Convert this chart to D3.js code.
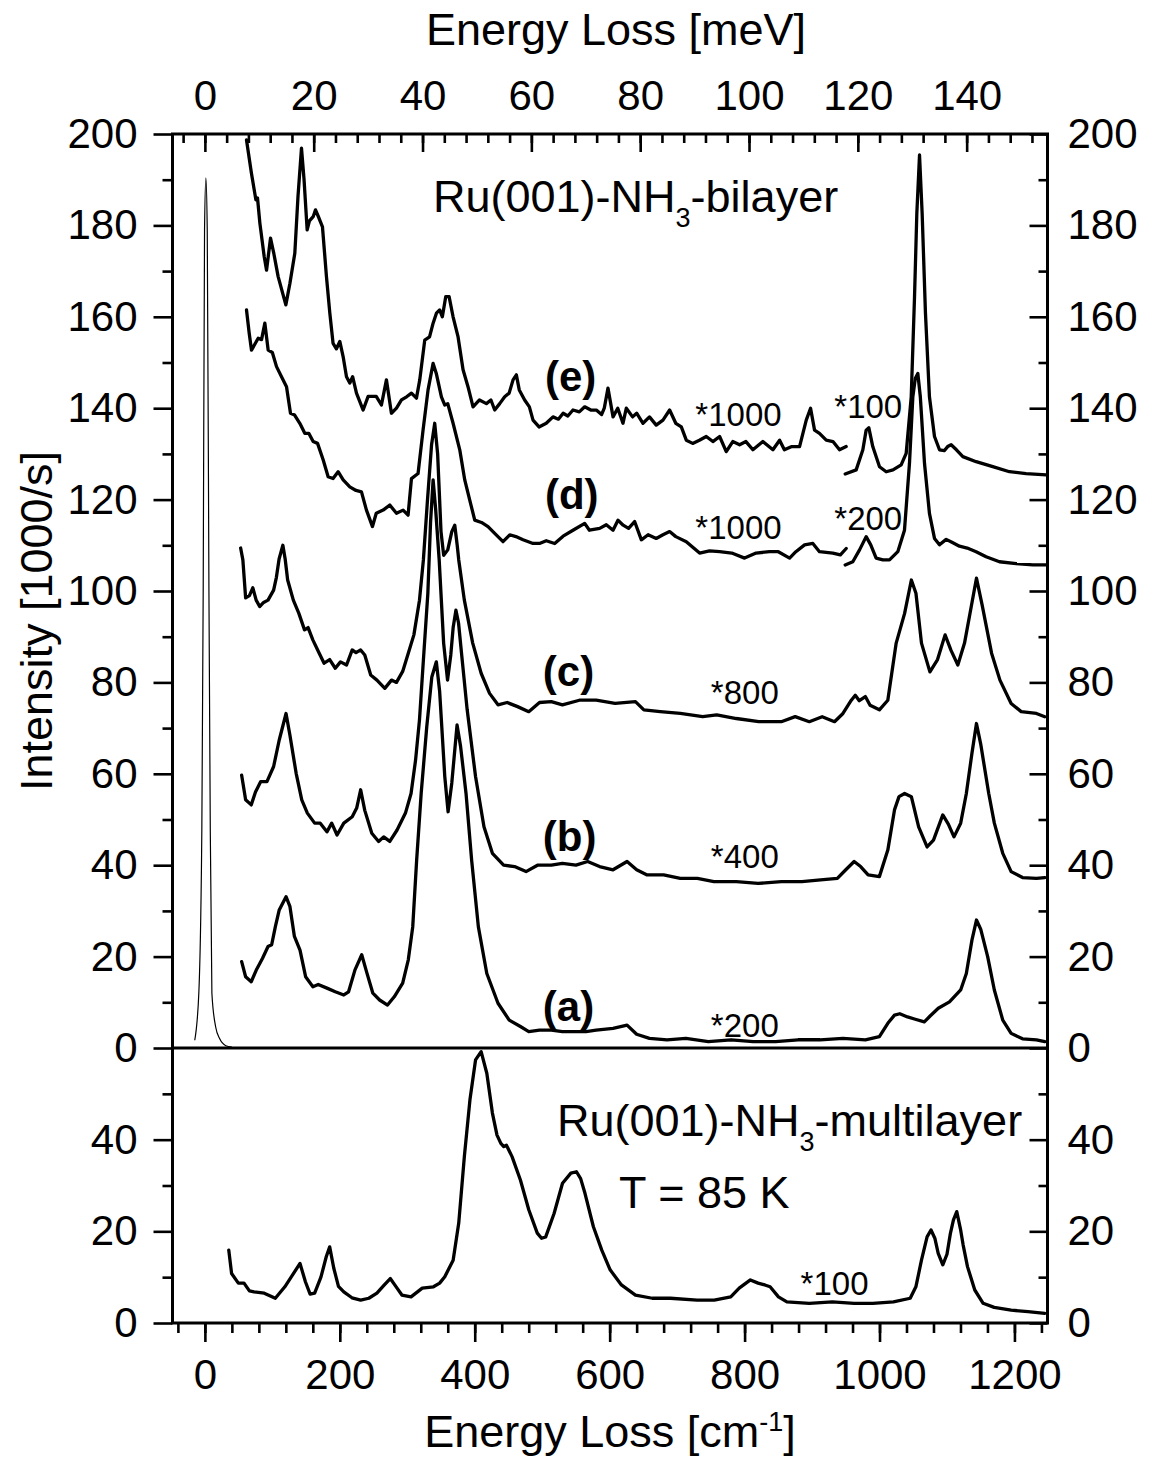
<!DOCTYPE html>
<html>
<head>
<meta charset="utf-8">
<script src="https://cdn.jsdelivr.net/npm/d3@7"></script>
<style>
  body { margin: 0; background: #fff; }
  svg { display: block; }
  text { font-family: "Liberation Sans", Arial, sans-serif; fill: #000; }
</style>
</head>
<body>
<svg id="chart" width="1160" height="1457"></svg>
<script>
// ---------- data (x in cm^-1, y in 1000/s) ----------
const elasticPeak = [[-15,1.7],[-9,12],[-4.5,48],[-2.5,100],[-0.5,179],[1.5,190.4],[3.5,179],[6,100],[8,48],[10.4,12],[16,4.6],[22,2],[31,0.5],[40,0.2]];

const curveE_left = [[61.7,198.7],[69,191.4],[75.6,185.6],[78,186],[81.5,180.5],[87.9,173.2],[91.4,170.2],[97.3,177.2],[102,174],[108.6,168.8],[120,162.6],[126,167.3],[133.3,173.9],[138,186.3],[143.2,196.9],[147,190],[151.6,179],[155,181],[160.5,181.9],[164,183.4],[168,182],[174.3,179.7],[180.2,168.8],[185.2,160.8],[190,154.2],[195,153],[200,154.6],[204.9,151.3],[209.9,146.9],[214.8,145.5],[219,146.9],[224.7,143.3],[234.6,139.6],[242,142.6],[254,142.6],[261.7,140.7],[269.1,146.2],[276.5,138.9],[284,140],[291.4,141.8],[299,142.5],[306.2,143.3],[313.6,142.2],[318.5,146.2],[325.9,154.9],[333,155.6],[338.3,158.6],[343.2,160.8],[348,161.5],[352,160],[357,164.4],[362,164.4],[367.9,160],[375.3,155.6],[382.7,148.4],[390,144.7],[397.5,140.3],[407,141.8],[417.3,141],[424,141.8],[429.6,139.6],[437,141],[444.4,142.5],[451,143.3],[456.8,146.2],[461.7,147.3],[466,144],[474,141.8],[481,140.3],[486.4,137.4],[495.3,135.9],[506,136.7],[516,138.1],[524,137.6],[531,138.9],[538,138.3],[545.6,139.6],[555,139.2],[563,140.3],[572,139.6],[580.2,139.6],[588,138.6],[592,140],[597.5,144.4],[605,138.1],[612,140],[619.7,136.7],[624.7,140],[634,138.1],[640,138.9],[649.4,136.7],[659,138.1],[669,136.3],[679,137.4],[688.9,139.6],[698,136.7],[706.2,135.9],[713.6,133],[723,132.3],[733,133],[743.2,133.8],[753,132.7],[763,133.8],[772.8,130.5],[782.5,132.7],[792.6,132],[802,132.7],[812.3,130.9],[827.1,132.7],[842,130.9],[851.9,133],[859,130.9],[870,131.6],[881.5,131.6],[891.4,137.4],[897.8,140],[903.7,135.2],[911,134.5],[921,133],[931,132.7],[940.7,130.9],[950.6,131.6]];
const curveE_right = [[949.1,125.6],[965.4,126.5],[975.3,130.9],[980.2,135.2],[984.2,135.7],[990,131.6],[1000,127.2],[1009.9,126.1],[1020,126.5],[1032.1,127.6],[1039.5,130.1],[1047,142.5],[1051.9,164.4],[1055.3,182.6],[1059.3,195.4],[1063.2,182.6],[1068.1,160.8],[1074,142.5],[1081.5,133.8],[1088.9,130.9],[1096,130.7],[1101,131.6],[1106.2,132],[1114,130.9],[1123.5,129.4],[1143.2,128.3],[1167.9,127.2],[1192.6,126.1],[1217.3,125.7],[1247,125.4]];

const curveD_left = [[61.7,161.5],[65.7,156.4],[69.1,152.7],[74,154],[79,155.3],[84,155],[88.9,158.6],[93.8,152.7],[100,152.2],[106.2,149.1],[113.6,146.9],[121,144.7],[126.9,138.9],[133,138.5],[140.7,136.7],[148.1,134.5],[154,134.5],[160.5,132.7],[167,132.3],[175.3,128.7],[182.7,125],[190,124.6],[197.5,126.1],[205,124.3],[214.8,122.8],[224,122],[232.1,121.7],[239.5,117.7],[248.4,114.1],[254,117],[264.2,117.7],[274.1,118.8],[284,117],[293.8,117.7],[301.2,116.6],[306.2,124.6],[316,125.7],[323.4,135.2],[330.8,144],[338.3,149.8],[343,147.6],[350.6,142.5],[355.6,140.7],[360,141],[367.9,136.7],[377.8,130.9],[385.2,124.3],[392.6,119.9],[400,115.5],[410,115],[419.7,114.1],[429.6,112.6],[441.9,110.8],[451.9,112.3],[461,111.9],[471.6,111.2],[486.4,110.4],[496,110.4],[506,111],[518.5,110.4],[531,112],[545.6,113.3],[563,114.8],[570,113.3],[585.2,113.7],[595,114.5],[605,113.3],[612.3,115.5],[620,114.4],[628,113.7],[637,115.2],[647,111.2],[657,112.3],[669,111.5],[679,112.3],[688.9,113],[698,111.9],[713.6,110.8],[733.3,108.3],[748,108.8],[763,108.6],[781,108.3],[800,107.2],[817,108.3],[837,108.6],[850,108.6],[866.7,107.2],[876,108.6],[888.9,110.1],[901.2,110.4],[911,108.6],[930.8,108.3],[942,107.9],[950.6,109.3]];
const curveD_right = [[949.1,105.7],[960.4,106.4],[970.4,109],[980.2,111.9],[987,110.1],[995,107.2],[1005,106.8],[1014.8,106.8],[1027.1,108.6],[1037,113.3],[1044.4,127.9],[1049.4,142.5],[1053,146.5],[1056.8,147.6],[1060.5,142.5],[1066.7,127.9],[1074,117],[1081.5,111.5],[1088.9,110.1],[1098.8,111.3],[1108,110.6],[1118.5,109.8],[1130,109.4],[1143.2,108.6],[1158,107.5],[1177.8,106.4],[1202.5,106],[1227.2,105.7],[1247,105.7]];

const curveC = [[53,109.4],[56.3,106.8],[60.4,98.5],[66,99],[71,100.7],[76,98],[81.2,96.6],[87,97.5],[93.6,98],[101.9,100.2],[106,103],[110,107],[115.6,110],[119,107],[122.7,102.4],[131.1,98],[139.3,95.1],[147.7,91.5],[153,92],[160,89.3],[168.4,86.7],[176.7,84.2],[185,85],[193.3,83.1],[201,84.5],[210,83.8],[218.4,87.1],[224,86.5],[230.9,87.1],[237,86],[245.8,81.6],[255,80.5],[266.7,78.7],[276.6,80.5],[284,80],[293.2,82.4],[301.5,86.4],[309.8,90.4],[318.1,98],[323.9,106.8],[330,120],[336,132],[340.7,136.7],[345,130],[350,113],[354,107.8],[360,109],[366,113],[370.4,114.4],[374,110],[376.3,106.8],[384.6,98],[397,88.6],[409.5,82],[422,77.6],[434.5,75.1],[448,75.6],[463.5,74.7],[480.1,73.6],[496,75.6],[513.5,75.8],[530,75.1],[555.1,76.1],[580,76.1],[608,75.4],[638.2,75.8],[650.7,74],[675,73.6],[704.7,73.2],[737.9,72.5],[758.7,72.9],[787.8,72.1],[821,71.4],[854.4,71.4],[875,72.5],[895.9,71.4],[915,72.5],[933.3,71.4],[945.8,73.2],[958.2,76.1],[964.1,77.2],[970,76],[979,76.9],[986,75],[999.8,74],[1012.3,76.1],[1024.7,88.6],[1037.2,95.1],[1047.2,102.4],[1054,99.5],[1062.2,88.6],[1074.7,82.3],[1086,85],[1097.2,90.4],[1106,87],[1116.1,83.8],[1126,88.6],[1136,96.6],[1143.7,102.8],[1152,97],[1166.1,86.4],[1178.5,80.5],[1195.1,75.4],[1210,73.6],[1232.6,73.2],[1245,72.5]];

const curveB = [[54.5,59.7],[60.4,54.3],[68.7,53.2],[75,56],[82.8,58.3],[92,58.3],[101.9,61.6],[110.2,67.4],[120.3,73.2],[126,68.5],[135.3,60.1],[143.6,54.3],[151.9,51.4],[162.7,49.2],[171,49.2],[180.9,47.3],[188,49.2],[195.9,46.6],[205.9,49.2],[218.4,50.6],[225,52.5],[230.9,56.5],[237,52],[247.4,47],[257.5,45.2],[265,46.2],[274.1,45.2],[284.9,47.7],[297.3,51.4],[305.6,55.7],[312.3,63],[318.1,71.8],[323.9,84.9],[330.5,99.5],[334.5,115],[338.3,124.3],[342,118],[347.3,106.8],[353.9,88.6],[359.7,80.5],[364.5,86],[368,92],[372.1,95.8],[376,93],[380.4,86.4],[388.8,74],[401.2,59.4],[413.7,48.4],[426.2,42.6],[442.8,40],[459,39.7],[476,38.6],[493,40],[513.5,40],[530,40.4],[550,40],[567.4,40.8],[585,39.7],[605,39],[625.8,40.8],[640,39],[654.8,37.9],[680,37.9],[704.7,37.1],[730,37.1],[754.5,36.4],[787.8,36.4],[820,36],[854.4,36.4],[885,36.4],[912.6,36.8],[937.5,37.1],[950,39],[962.4,40.8],[972,39.7],[983.1,37.9],[999.8,37.5],[1012.3,43.3],[1022.2,52.1],[1028.9,55],[1037.2,55.7],[1047.2,55],[1058,48.4],[1070.5,44],[1080,45.5],[1093.8,51],[1102,49],[1110.4,46.2],[1120.3,49.2],[1128.7,55.7],[1137,64.5],[1143.7,71],[1150,66.5],[1161.9,55.7],[1170.2,49.2],[1182.7,42.6],[1195.1,38.6],[1212,37.3],[1232.6,37.1],[1245,37.3]];

const curveA = [[54.5,18.9],[60.4,15.6],[68.7,14.5],[76,17],[85.3,19.6],[93.6,22.2],[99,22.6],[104.4,26.5],[110.2,30.2],[120.3,33.1],[126,31],[132.7,24.4],[141,21.4],[149.3,15.6],[160.1,13.4],[168,13.9],[180.9,13.1],[193.3,12.3],[205.9,11.6],[213,12.3],[222.5,17.1],[232.5,20.4],[240,16.5],[249,12],[259,10.5],[270.7,9.4],[280.7,11.2],[293.2,14.2],[301.5,19.3],[308.1,26.5],[313.9,41.1],[320.6,55.7],[328.9,70.3],[336.4,81.2],[343.1,84.5],[348,78],[355.6,59.4],[360.5,51.7],[366,58],[373.8,70.7],[379,66],[387.1,55.7],[395.4,41.1],[405.4,26.5],[417.9,16.3],[434.5,9.8],[451.1,6.1],[467.7,4.7],[480.1,3.6],[496,3.9],[513.5,3.9],[530,3.6],[546.7,3.6],[565,3.6],[580,3.9],[605,4.3],[625.8,5],[640,3],[659,2.1],[685,1.8],[713,2.1],[746.2,1.4],[780,1.8],[812.7,1.4],[846,1.4],[879.3,1.8],[912,1.8],[945.8,2.1],[979,1.8],[999.8,2.5],[1012.3,5.4],[1022.2,7.2],[1030,7.5],[1041.5,6.8],[1053,6.3],[1066.4,5.7],[1075,7],[1087.1,8.7],[1103.7,10.1],[1120.3,12.7],[1128.7,16.3],[1137,23.6],[1143.7,28],[1150,26],[1160.3,20],[1170.2,12.7],[1182.7,6.1],[1195.1,3.2],[1212,2],[1232.6,1.8],[1245,1.4]];

const curveMultilayer = [[35.4,15.9],[39.6,10.8],[49.6,8.7],[58,8.7],[66,7],[72.9,6.8],[88,6.5],[104.4,5.4],[118.5,7.9],[130,10.5],[141,13],[149,9],[156,6.3],[162.7,6.5],[172,10],[180,14.5],[185,16.6],[191,12],[198,8],[205.9,6.8],[218,5.5],[230.9,5],[243,5.4],[255,6.5],[266,8.3],[274.8,9.7],[283,8],[292,6.1],[305.6,5.7],[322.2,7.6],[338.8,7.9],[348,8.7],[355.6,10.1],[368,13.7],[376.3,21.8],[384.6,36.3],[392.9,48.7],[401.2,57.4],[409.5,59.2],[417.9,54.5],[426.2,45.8],[433,41],[438.7,39.2],[443,38.5],[447,38.8],[455.3,36.3],[467.7,31.2],[480.1,24.7],[492.7,19.6],[499,18.5],[505.2,18.8],[517.6,23.9],[530.1,30.5],[542.5,32.7],[550.8,33],[557,31.5],[563.4,28.3],[575.9,21],[588.3,15.9],[600.7,11.6],[617.4,8.3],[638.2,6.1],[663.2,5.4],[690,5.4],[729.6,5],[755,5],[779.5,5.7],[792,7.6],[808.6,9.4],[820,8.7],[830,8.3],[837.8,7.9],[850.2,5.7],[862.7,4.6],[895.9,4.3],[930,4.6],[962.4,4.3],[990,4.3],[1020.6,4.6],[1045.5,5.4],[1053.9,7.9],[1062.2,13.7],[1070.5,18.8],[1076.3,20.3],[1082,18.5],[1087,15.2],[1093.8,12.7],[1100,15],[1105,19.5],[1109.6,22.5],[1114.5,24.3],[1120,20.5],[1124,17],[1130.4,12.3],[1141.2,7.2],[1153.6,4.3],[1170,3.4],[1195.1,2.8],[1220,2.5],[1245,2.1]];

// tick values / labels
const bottomTicksMajor = [0, 200, 400, 600, 800, 1000, 1200];
const bottomTicksMinor = d3.range(-40, 1241, 40);
const topTicksMajor = [0, 20, 40, 60, 80, 100, 120, 140];
const topTicksMinor = d3.range(-4, 153, 4);
const upperTicksMajor = [0, 20, 40, 60, 80, 100, 120, 140, 160, 180, 200];
const upperTicksMinor = d3.range(10, 200, 20);
const lowerTicksMajor = [0, 20, 40];
const lowerTicksMinor = [10, 30, 50];

const curveLabels = [
  {text: "(e)", x: 504, y: 143.8},
  {text: "(d)", x: 504, y: 117.9},
  {text: "(c)", x: 501, y: 79.2},
  {text: "(b)", x: 501, y: 43.1},
  {text: "(a)", x: 501, y: 5.9}
];
const factorLabels = [
  {text: "*1000", x: 727, y: 136.1},
  {text: "*1000", x: 727, y: 111.4},
  {text: "*100", x: 933, y: 137.8},
  {text: "*200", x: 933, y: 113.3},
  {text: "*800", x: 750, y: 75.3},
  {text: "*400", x: 750, y: 39.4},
  {text: "*200", x: 750, y: 2.4}
];
const factorLabelsLower = [{text: "*100", x: 883, y: 6.1}];

// ---------- layout ----------
const CM_PER_MEV = 8.0655;
const L = 172.5, R = 1047.5, T = 134, MID = 1048, B = 1323;
const svg = d3.select("#chart");
svg.append("rect").attr("width", 1160).attr("height", 1457).attr("fill", "#fff");

const x = d3.scaleLinear().domain([-48, 1249]).range([L, R]);
const xm = d3.scaleLinear().domain([-48 / CM_PER_MEV, 1249 / CM_PER_MEV]).range([L, R]);
const yU = d3.scaleLinear().domain([0, 200]).range([MID, T]);
const yL = d3.scaleLinear().domain([0, 60]).range([B, MID]);

const FONT = 42;

function styleAxis(g) {
  g.select(".domain").remove();
  g.selectAll(".tick line").attr("stroke", "#000").attr("stroke-width", 2.6);
  g.selectAll(".tick text").attr("font-size", FONT).attr("fill", "#000")
    .attr("font-family", '"Liberation Sans", Arial, sans-serif');
}

// bottom axis
svg.append("g").attr("transform", `translate(0,${B})`)
  .call(d3.axisBottom(x).tickValues(bottomTicksMinor).tickSize(10).tickFormat(""))
  .call(styleAxis);
svg.append("g").attr("transform", `translate(0,${B})`)
  .call(d3.axisBottom(x).tickValues(bottomTicksMajor).tickSize(19).tickPadding(17).tickFormat(d3.format("d")))
  .call(styleAxis);

// top axis (meV), ticks inward
svg.append("g").attr("transform", `translate(0,${T})`)
  .call(d3.axisTop(xm).tickValues(topTicksMinor).tickSize(-9).tickFormat(""))
  .call(styleAxis);
svg.append("g").attr("transform", `translate(0,${T})`)
  .call(d3.axisTop(xm).tickValues(topTicksMajor).tickSize(-18).tickPadding(24).tickFormat(d3.format("d")))
  .call(styleAxis);

// left axes (outward)
svg.append("g").attr("transform", `translate(${L},0)`)
  .call(d3.axisLeft(yU).tickValues(upperTicksMinor).tickSize(10).tickFormat(""))
  .call(styleAxis);
svg.append("g").attr("transform", `translate(${L},0)`)
  .call(d3.axisLeft(yU).tickValues(upperTicksMajor).tickSize(19).tickPadding(16).tickFormat(d3.format("d")))
  .call(styleAxis);
svg.append("g").attr("transform", `translate(${L},0)`)
  .call(d3.axisLeft(yL).tickValues(lowerTicksMinor).tickSize(10).tickFormat(""))
  .call(styleAxis);
svg.append("g").attr("transform", `translate(${L},0)`)
  .call(d3.axisLeft(yL).tickValues(lowerTicksMajor).tickSize(19).tickPadding(16).tickFormat(d3.format("d")))
  .call(styleAxis);

// right axes (ticks inward, labels outside)
svg.append("g").attr("transform", `translate(${R},0)`)
  .call(d3.axisRight(yU).tickValues(upperTicksMinor).tickSize(-9).tickFormat(""))
  .call(styleAxis);
svg.append("g").attr("transform", `translate(${R},0)`)
  .call(d3.axisRight(yU).tickValues(upperTicksMajor).tickSize(-18).tickPadding(20).tickFormat(d3.format("d")))
  .call(styleAxis);
svg.append("g").attr("transform", `translate(${R},0)`)
  .call(d3.axisRight(yL).tickValues(lowerTicksMinor).tickSize(-9).tickFormat(""))
  .call(styleAxis);
svg.append("g").attr("transform", `translate(${R},0)`)
  .call(d3.axisRight(yL).tickValues(lowerTicksMajor).tickSize(-18).tickPadding(20).tickFormat(d3.format("d")))
  .call(styleAxis);

// clip
svg.append("clipPath").attr("id", "clipU").append("rect")
  .attr("x", L).attr("y", T).attr("width", R - L).attr("height", MID - T);
svg.append("clipPath").attr("id", "clipL").append("rect")
  .attr("x", L).attr("y", MID - 4).attr("width", R - L).attr("height", B - MID + 4);

const lineU = d3.line().x(d => x(d[0])).y(d => yU(d[1]));
const lineL = d3.line().x(d => x(d[0])).y(d => yL(d[1]));

const gU = svg.append("g").attr("clip-path", "url(#clipU)");
gU.append("path").datum(elasticPeak)
  .attr("d", d3.line().x(d => x(d[0])).y(d => yU(d[1])).curve(d3.curveMonotoneX))
  .attr("fill", "none").attr("stroke", "#000").attr("stroke-width", 1.2);

[curveE_left, curveE_right, curveD_left, curveD_right, curveC, curveB, curveA].forEach(c => {
  gU.append("path").datum(c).attr("d", lineU)
    .attr("fill", "none").attr("stroke", "#000").attr("stroke-width", 3.3)
    .attr("stroke-linejoin", "round").attr("stroke-linecap", "round");
});

svg.append("g").attr("clip-path", "url(#clipL)")
  .append("path").datum(curveMultilayer).attr("d", lineL)
  .attr("fill", "none").attr("stroke", "#000").attr("stroke-width", 3.3)
  .attr("stroke-linejoin", "round").attr("stroke-linecap", "round");

// frame + divider
svg.append("rect").attr("x", L).attr("y", T).attr("width", R - L).attr("height", B - T)
  .attr("fill", "none").attr("stroke", "#000").attr("stroke-width", 3);
svg.append("line").attr("x1", L).attr("x2", R).attr("y1", MID).attr("y2", MID)
  .attr("stroke", "#000").attr("stroke-width", 3);

// ---------- texts ----------
const tb = svg.append("text").attr("x", 610).attr("y", 1447).attr("text-anchor", "middle").attr("font-size", 45);
tb.append("tspan").text("Energy Loss [cm");
tb.append("tspan").attr("font-size", 27).attr("dy", -16).text("-1");
tb.append("tspan").attr("dy", 16).text("]");

svg.append("text").attr("x", 616).attr("y", 45).attr("text-anchor", "middle").attr("font-size", 45)
  .text("Energy Loss [meV]");

svg.append("text").attr("transform", "translate(52,621) rotate(-90)")
  .attr("text-anchor", "middle").attr("font-size", 45).text("Intensity [1000/s]");

function nh3Title(xp, yp, suffix) {
  const t = svg.append("text").attr("x", xp).attr("y", yp).attr("font-size", 45);
  t.append("tspan").text("Ru(001)-NH");
  t.append("tspan").attr("font-size", 27).attr("dy", 15).text("3");
  t.append("tspan").attr("dy", -15).text(suffix);
}
nh3Title(433, 212, "-bilayer");
nh3Title(557, 1136, "-multilayer");
svg.append("text").attr("x", 619).attr("y", 1208).attr("font-size", 45).text("T = 85 K");

svg.append("g").selectAll("text").data(curveLabels).join("text")
  .attr("x", d => x(d.x)).attr("y", d => yU(d.y))
  .attr("font-size", 42).attr("font-weight", "bold").text(d => d.text);

svg.append("g").selectAll("text").data(factorLabels).join("text")
  .attr("x", d => x(d.x)).attr("y", d => yU(d.y))
  .attr("font-size", 33).text(d => d.text);
svg.append("g").selectAll("text").data(factorLabelsLower).join("text")
  .attr("x", d => x(d.x)).attr("y", d => yL(d.y))
  .attr("font-size", 33).text(d => d.text);
</script>
</body>
</html>
